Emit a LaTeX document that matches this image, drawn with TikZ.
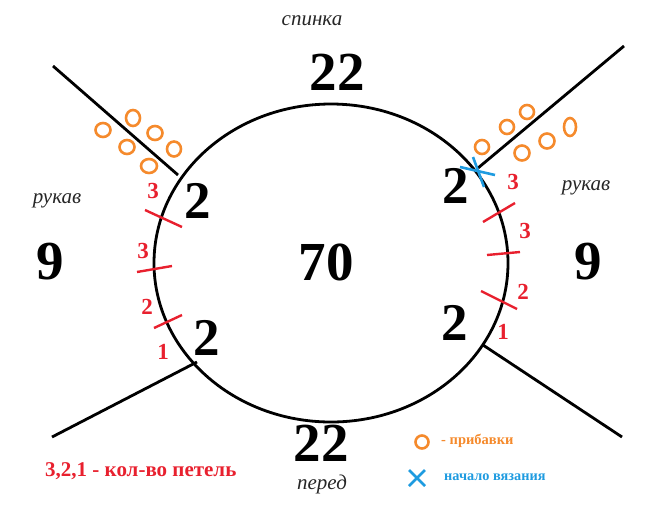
\documentclass[tikz,border=0pt]{standalone}
\usepackage{fontspec}
\setmainfont{Liberation Serif}
\usetikzlibrary{shapes.geometric}
\definecolor{knitorange}{HTML}{F58A2C}
\definecolor{knitred}{HTML}{E8202E}
\definecolor{knitblue}{HTML}{1E9BE0}
\begin{document}
\begin{tikzpicture}[x=1pt,y=-1pt,
  blackline/.style={line width=2.8pt,black},
  bignum/.style={font=\fontsize{55}{55}\selectfont\bfseries,inner sep=0pt},
  twonum/.style={font=\fontsize{53}{53}\selectfont\bfseries,inner sep=0pt},
  partlabel/.style={font=\fontsize{21}{21}\selectfont\itshape,inner sep=0pt,text=black!85},
  rednum/.style={font=\fontsize{23}{23}\selectfont\bfseries,inner sep=0pt,text=knitred},
  tick/.style={line width=2.4pt,knitred},
  loop/.style={line width=2.6pt,knitorange},
  cross/.style={line width=2.6pt,knitblue}]
\useasboundingbox (0,0) rectangle (660,523);
% body circle
\node[draw,blackline,ellipse,minimum width=354pt,minimum height=318pt,inner sep=0pt] (body) at (331,263) {};
% raglan lines
\coordinate (tlA) at (53,66);   \coordinate (tlB) at (178,175);
\coordinate (trA) at (624,46);  \coordinate (trB) at (478,168);
\coordinate (blA) at (52,437);  \coordinate (blB) at (197,362);
\coordinate (brA) at (622,437); \coordinate (brB) at (483,345);
\draw[blackline] (tlA) -- (tlB);
\draw[blackline] (trA) -- (trB);
\draw[blackline] (blA) -- (blB);
\draw[blackline] (brA) -- (brB);
% labels
\node[partlabel] (spinka) at (312,21) {спинка};
\node[partlabel] (pered) at (322,484) {перед};
\node[partlabel] (rukL) at (57,201) {рукав};
\node[partlabel] (rukR) at (586,188) {рукав};
\node[bignum] (back) at (337,72) {22};
\node[bignum] (front) at (321,443) {22};
\node[bignum] (total) at (326,262) {70};
\node[bignum] (sleeveL) at (50,262) {9};
\node[bignum] (sleeveR) at (588,262) {9};
\node[twonum] (tl2) at (198,201) {2};
\node[twonum] (tr2) at (456,186) {2};
\node[twonum] (bl2) at (207,338) {2};
\node[twonum] (br2) at (455,323) {2};
% red ticks
\coordinate (t1a) at (145,210); \coordinate (t1b) at (182,227);
\coordinate (t2a) at (137,272); \coordinate (t2b) at (172,266);
\coordinate (t3a) at (154,328); \coordinate (t3b) at (182,315);
\coordinate (t4a) at (483,222); \coordinate (t4b) at (515,203);
\coordinate (t5a) at (487,255); \coordinate (t5b) at (520,252);
\coordinate (t6a) at (481,291); \coordinate (t6b) at (517,309);
\draw[tick] (t1a) -- (t1b);
\draw[tick] (t2a) -- (t2b);
\draw[tick] (t3a) -- (t3b);
\draw[tick] (t4a) -- (t4b);
\draw[tick] (t5a) -- (t5b);
\draw[tick] (t6a) -- (t6b);
% red numbers
\node[rednum] (nL1) at (153,191) {3};
\node[rednum] (nL2) at (143,251) {3};
\node[rednum] (nL3) at (147,307) {2};
\node[rednum] (nL4) at (163,352) {1};
\node[rednum] (nR1) at (513,182) {3};
\node[rednum] (nR2) at (525,231) {3};
\node[rednum] (nR3) at (523,292) {2};
\node[rednum] (nR4) at (503,332) {1};
% orange loops (increases)
\draw[loop] (103,130) ellipse [x radius=7.5pt,y radius=7pt];
\draw[loop] (133,118) ellipse [x radius=7pt,y radius=8pt];
\draw[loop] (155,133) ellipse [x radius=7.5pt,y radius=7pt];
\draw[loop] (127,147) ellipse [x radius=7.5pt,y radius=7pt];
\draw[loop] (174,149) ellipse [x radius=7pt,y radius=7.5pt];
\draw[loop] (149,166) ellipse [x radius=8pt,y radius=7pt];
\draw[loop] (527,112) ellipse [x radius=7pt,y radius=7pt];
\draw[loop] (507,127) ellipse [x radius=7pt,y radius=7pt];
\draw[loop] (482,147) ellipse [x radius=7pt,y radius=7pt];
\draw[loop] (570,127) ellipse [x radius=6pt,y radius=9pt];
\draw[loop] (547,141) ellipse [x radius=7.5pt,y radius=7.5pt];
\draw[loop] (522,153) ellipse [x radius=7.5pt,y radius=7.5pt];
% start-of-knitting cross
\coordinate (x1a) at (460,167); \coordinate (x1b) at (495,175);
\coordinate (x2a) at (473,157); \coordinate (x2b) at (484,187);
\draw[cross] (x1a) -- (x1b);
\draw[cross] (x2a) -- (x2b);
% legend
\node[font=\fontsize{21}{21}\selectfont\bfseries,text=knitred,anchor=west,inner sep=0pt] (legstitch) at (45,471) {3,2,1 - кол-во петель};
\draw[loop] (422,442) ellipse [x radius=6.5pt,y radius=6.5pt];
\node[font=\fontsize{14.5}{14.5}\selectfont\bfseries,text=knitorange,anchor=west,inner sep=0pt] (leginc) at (441,441) {- прибавки};
\coordinate (lx1a) at (409,470); \coordinate (lx1b) at (425,486);
\coordinate (lx2a) at (425,470); \coordinate (lx2b) at (409,486);
\draw[cross] (lx1a) -- (lx1b);
\draw[cross] (lx2a) -- (lx2b);
\node[font=\fontsize{14.3}{14.3}\selectfont\bfseries,text=knitblue,anchor=west,inner sep=0pt] (legstart) at (444,477) {начало вязания};
\end{tikzpicture}
\end{document}
